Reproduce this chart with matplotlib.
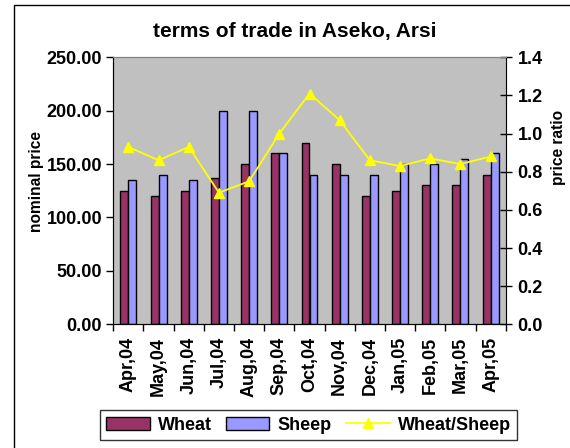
import matplotlib
matplotlib.use("Agg")
import matplotlib.pyplot as plt
import numpy as np
from matplotlib.patches import Rectangle
from matplotlib.ticker import FormatStrFormatter

months = ["Apr,04", "May,04", "Jun,04", "Jul,04", "Aug,04", "Sep,04", "Oct,04",
          "Nov,04", "Dec,04", "Jan,05", "Feb,05", "Mar,05", "Apr,05"]
wheat = [125, 120, 125, 137, 150, 160, 170, 150, 120, 125, 130, 130, 140]
sheep = [135, 140, 135, 200, 200, 160, 140, 140, 140, 150, 150, 155, 160]
ratio = [0.93, 0.86, 0.93, 0.69, 0.75, 1.00, 1.21, 1.07, 0.86, 0.83, 0.87, 0.84, 0.88]

plt.rcParams['font.family'] = ['Liberation Sans', 'DejaVu Sans']
plt.rcParams['font.weight'] = 'bold'

W, H = 570, 448
fig = plt.figure(figsize=(W / 100, H / 100), dpi=100)

# outer chart border
fig.patches.append(Rectangle((14 / W, -0.1), 1.2, 1 - 4.5 / H + 0.1, transform=fig.transFigure,
                             fill=False, edgecolor='black', linewidth=1.0))

FS = 13
L, R, T, B = 113.3, 505.7, 57.3, 324.3
ax = fig.add_axes([L / W, 1 - B / H, (R - L) / W, (B - T) / H])
ax.set_facecolor('#C0C0C0')

x = np.arange(len(months))
bw = 0.265
ax.bar(x - bw / 2, wheat, bw, color='#993366', edgecolor='black', linewidth=1.0, label='Wheat', zorder=2)
ax.bar(x + bw / 2, sheep, bw, color='#9999FF', edgecolor='black', linewidth=1.0, label='Sheep', zorder=2)
ax.set_xlim(-0.5, len(months) - 0.5)
ax.set_ylim(0, 250)
ax.set_yticks(np.arange(0, 251, 50))
ax.yaxis.set_major_formatter(FormatStrFormatter('%.2f'))
ax.set_xticks(x)
ax.set_xticklabels(months, rotation=90, fontsize=FS, fontweight='bold')
ax.set_xticks(np.arange(-0.5, len(months), 1), minor=True)
ax.tick_params(axis='x', which='major', length=0, pad=9)
ax.tick_params(axis='x', which='minor', length=5, direction='out', width=1)
ax.tick_params(axis='y', length=5, direction='out', width=1, labelsize=FS, pad=3)
for lab in ax.get_yticklabels():
    lab.set_fontweight('bold')

for s in ['top', 'right']:
    ax.spines[s].set_color('#808080')
ax.spines['left'].set_color('#404040')
ax.spines['bottom'].set_color('black')

ax2 = ax.twinx()
ax2.plot(x, ratio, color='#FFFF00', linewidth=1.3, marker='^', markersize=7.5,
         markerfacecolor='#FFFF00', markeredgecolor='#FFFF00', label='Wheat/Sheep', zorder=3)
ax2.set_ylim(0, 1.4)
ax2.set_yticks(np.arange(0, 1.41, 0.2))
ax2.yaxis.set_major_formatter(FormatStrFormatter('%.1f'))
ax2.tick_params(axis='y', length=9, direction='inout', width=1, labelsize=FS, pad=4)
for lab in ax2.get_yticklabels():
    lab.set_fontweight('bold')
ax2.spines['right'].set_color('black')
ax2.spines['top'].set_color('#808080')

fig.text(36 / W, 1 - 181 / H, 'nominal price', rotation=90, ha='center', va='center',
         fontsize=11.2, fontweight='bold')
fig.text(558 / W, 1 - 147.5 / H, 'price ratio', rotation=90, ha='center', va='center',
         fontsize=11.2, fontweight='bold')

fig.text(295 / W, 1 - 31 / H, 'terms of trade in Aseko, Arsi', ha='center', va='center',
         fontsize=15, fontweight='bold')

h1, l1 = ax.get_legend_handles_labels()
h2, l2 = ax2.get_legend_handles_labels()
leg = fig.legend(h1 + h2, l1 + l2, loc='center', ncol=3,
                 bbox_to_anchor=((99.3 + 517.7) / 2 / W, 1 - 425 / H),
                 frameon=True, fancybox=False, edgecolor='black', fontsize=FS,
                 handlelength=2.4, handleheight=0.7, columnspacing=0.8, handletextpad=0.45,
                 borderpad=0.35)
leg.get_frame().set_linewidth(1.0)
for t in leg.get_texts():
    t.set_fontweight('bold')

fig.savefig('out.png', dpi=100)
